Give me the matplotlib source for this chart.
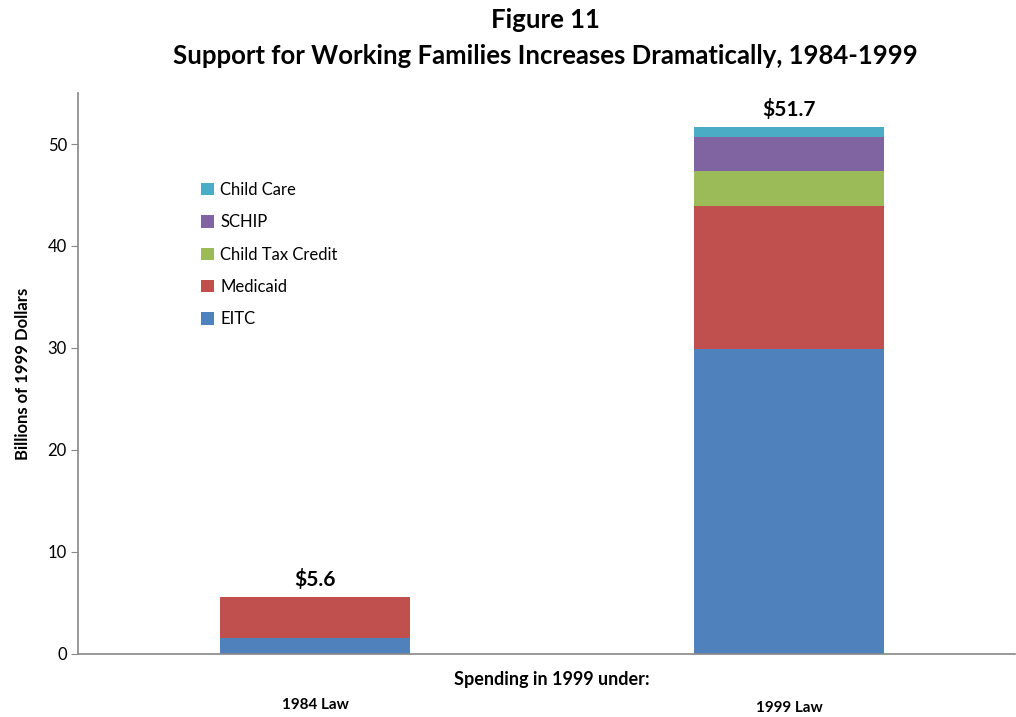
import matplotlib
matplotlib.use("Agg")
import matplotlib.pyplot as plt
import matplotlib.transforms as mtransforms
import numpy as np

categories = ["1984 Law", "1999 Law"]
series_names = ["EITC", "Medicaid", "Child Tax Credit", "SCHIP", "Child Care"]
eitc = [1.6, 29.9]
medicaid = [4.0, 14.0]
child_tax_credit = [0.0, 3.5]
schip = [0.0, 3.3]
child_care = [0.0, 1.0]
totals = ["$5.6", "$51.7"]
yticks = [0, 10, 20, 30, 40, 50]

colors = ["#4F81BD", "#C0504D", "#9BBB59", "#8064A2", "#4BACC6"]

plt.rcParams['font.family'] = ['Lato', 'DejaVu Sans']

fig = plt.figure(figsize=(10.16, 7.17), dpi=100)
ax = fig.add_axes([78/1016, 63/717, 937/1016, 561/717])

x = np.arange(len(categories))
series = [eitc, medicaid, child_tax_credit, schip, child_care]
bottom = np.zeros(len(categories))
handles = []
for name, vals, c in zip(series_names, series, colors):
    h = ax.bar(x, vals, width=0.4, bottom=bottom, color=c, label=name, edgecolor='none')
    handles.append(h)
    bottom += np.array(vals)

for xi, tot, lab in zip(x, bottom, totals):
    ax.text(xi, tot + 0.7, lab, ha='center', va='bottom', fontsize=15, fontweight='bold')

ax.set_xlim(-0.5, 1.477)
ax.set_ylim(0, 55)
ax.set_yticks(yticks)
ax.set_xticks([])
ax.tick_params(axis='y', direction='out', length=5, color='#888888', labelsize=12, pad=3)
for s in ['top', 'right']:
    ax.spines[s].set_visible(False)
for s in ['left', 'bottom']:
    ax.spines[s].set_color('#888888')
    ax.spines[s].set_linewidth(1.2)

ax.set_ylabel("Billions of 1999 Dollars", fontsize=12, fontweight='bold', labelpad=12)

leg = ax.legend(handles[::-1], series_names[::-1], loc='upper left',
                bbox_to_anchor=(108/937, (624-170+33)/561), frameon=False,
                fontsize=12, handlelength=0.75, handleheight=0.75, handletextpad=0.4,
                labelspacing=0.98)

fig.text(545/1016, 1 - 20/717, "Figure 11", ha='center', va='center', fontsize=18.5, fontweight='bold')
fig.text(545/1016, 1 - 56/717, "Support for Working Families Increases Dramatically, 1984-1999",
         ha='center', va='center', fontsize=18.5, fontweight='bold')

fig.text(552/1016, 1 - 680/717, "Spending in 1999 under:", ha='center', va='center',
         fontsize=13, fontweight='bold')
trans = mtransforms.blended_transform_factory(ax.transData, fig.transFigure)
for xi, yy, lab in zip(x, [705, 708], categories):
    ax.text(xi, 1 - yy/717, lab, ha='center', va='center', fontsize=11, fontweight='bold',
            transform=trans)

plt.savefig("out.png", dpi=100)
